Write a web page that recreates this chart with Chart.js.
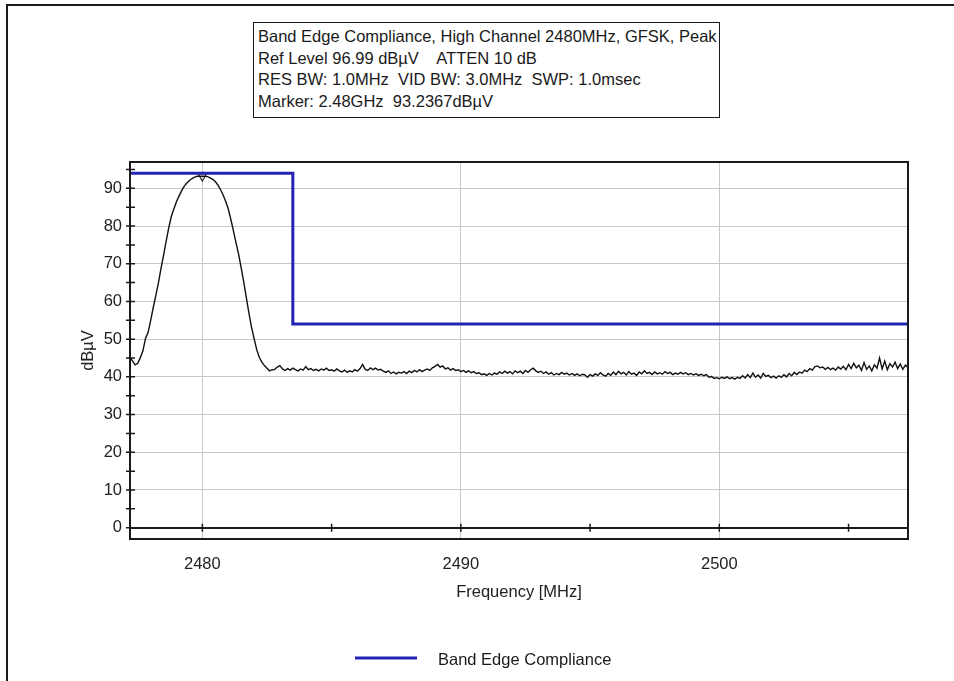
<!DOCTYPE html>
<html>
<head>
<meta charset="utf-8">
<script src="https://cdn.jsdelivr.net/npm/chart.js@4"></script>
<style>
  body { margin: 0; background: #fff; }
  #wrap { position: absolute; left: 0; top: 0; width: 954px; height: 681px; }
  #frame { position: absolute; left: 6px; top: 4px; right: 0; bottom: 0; border-top: 2px solid #1a1a1a; border-left: 2px solid #1a1a1a; }
  #info {
    position: absolute; left: 253px; top: 22px; width: 461px; height: 91px;
    border: 1.5px solid #1a1a1a; padding: 3px 0 0 4px; background: #fff;
    font: 16.5px "Liberation Sans", Arial, sans-serif; line-height: 21.7px; color: #1a1a1a;
    white-space: pre;
  }
</style>
</head>
<body>
<div id="wrap">
  <div id="frame"></div>
  <canvas id="chartBandEdge" width="954" height="681"></canvas>
  <div id="info"></div>
</div>
<script>
// sweep header
const infoLines = [
  'Band Edge Compliance, High Channel 2480MHz, GFSK, Peak',
  'Ref Level 96.99 dBµV    ATTEN 10 dB',
  'RES BW: 1.0MHz  VID BW: 3.0MHz  SWP: 1.0msec',
  'Marker: 2.48GHz  93.2367dBµV'
];

// analyzer trace, one point every 0.1 MHz from 2477.2 MHz
const freqStart = 2477.2;
const freqStep = 0.1;
const traceLevel = [
  45.2, 44.2, 43.2, 43.6, 45.1, 46.9, 50.2, 51.8,
  55.0, 58.4, 61.6, 64.9, 68.8, 72.3, 76.0, 79.6, 82.6, 84.6,
  86.5, 88.0, 89.4, 90.6, 91.4, 92.1, 92.6, 93.0, 93.2, 93.2,
  93.24, 93.2, 93.1, 92.8, 92.4, 91.8, 90.9, 89.7, 88.3, 86.6,
  84.6, 81.8, 78.8, 75.6, 72.6, 69.0, 65.2, 61.0, 57.0, 53.2,
  50.2, 47.3, 45.2, 43.9, 43.0, 42.3, 41.6, 41.9, 42.0, 42.6,
  43.0, 42.1, 41.7, 42.2, 41.8, 42.3, 41.9, 41.6, 42.1, 41.8,
  42.7, 41.9, 42.2, 41.7, 42.0, 41.6, 42.1, 41.8, 42.3, 41.7,
  41.9, 41.5, 42.1, 41.6, 41.3, 41.8, 41.2, 41.6, 41.3, 41.9,
  41.5, 42.2, 43.3, 42.0, 41.7, 42.4, 41.9, 42.3, 41.8, 42.0,
  41.5, 41.2, 41.6, 40.9, 41.3, 40.8, 41.2, 41.0, 41.4, 40.9,
  41.5, 41.1, 41.7, 41.3, 41.9, 41.4, 41.8, 42.1, 41.7, 42.4,
  42.8, 43.3, 42.6, 42.9, 42.1, 42.4, 41.8, 42.2, 41.7, 41.9,
  41.4, 41.7, 41.2, 41.6, 41.1, 41.4, 40.9, 41.1, 40.6, 40.8,
  40.4, 40.9, 40.5, 41.0, 40.7, 41.3, 40.9, 41.5, 41.0, 41.4,
  40.8, 41.6, 41.1, 41.5, 40.9, 41.7, 41.2, 41.9, 42.3, 41.6,
  41.2, 41.5, 40.9, 41.3, 40.7, 41.1, 40.5, 40.9, 40.6, 41.2,
  40.7, 41.0, 40.5, 40.9, 40.4, 40.8, 40.3, 40.7, 40.5, 39.9,
  40.6, 40.2, 40.8, 40.4, 41.1, 40.5, 40.2, 40.9, 40.4, 41.3,
  40.6, 41.5, 40.8, 41.2, 40.5, 41.4, 40.7, 41.0, 40.4, 41.3,
  40.8, 41.6, 40.9, 41.2, 40.6, 41.3, 40.8, 41.1, 40.7, 41.4,
  40.9, 41.2, 40.6, 41.0, 40.7, 41.2, 40.8, 41.1, 40.6, 40.9,
  40.5, 40.8, 40.4, 40.7, 40.3, 40.6, 39.9, 40.1, 39.6, 39.8,
  39.5, 39.9, 39.6, 40.0, 39.5, 39.8, 39.4, 39.9, 39.6, 40.3,
  39.7, 40.6, 39.8, 41.0, 39.9, 40.5, 39.7, 40.9, 40.1, 40.4,
  39.8, 40.2, 39.7, 40.3, 39.9, 40.6, 40.0, 40.9, 40.3, 41.2,
  40.6, 41.3, 41.0, 41.8, 41.4, 42.2, 41.8, 42.7, 42.9, 42.4,
  42.6, 42.0, 42.5, 41.9, 42.3, 41.8, 42.6, 42.1, 42.8, 41.9,
  43.3, 42.2, 43.6, 42.4, 43.1, 41.7, 43.8, 42.0, 42.9, 41.6,
  43.2, 42.3, 45.0, 42.1, 44.2, 41.9, 43.5, 42.6, 43.9, 42.2,
  43.4, 42.0, 43.1, 42.5
];

// limit line: 94 dBuV in band, 54 dBuV above 2483.5 MHz
const limitFreq = [2477.2, 2483.5, 2483.5, 2507.3];
const limitLevel = [94, 94, 54, 54];

const markerFreq = 2480;
const markerLevel = 93.2367;

// tick marks every 5, labels and grid every 10
const yTickValues = [0, 5, 10, 15, 20, 25, 30, 35, 40, 45, 50, 55, 60, 65, 70, 75, 80, 85, 90, 95];
const xTickValues = [2480, 2485, 2490, 2495, 2500, 2505];

const xMin = 2477.2, xMax = 2507.3;
const yMin = -3, yMax = 96.99;

document.getElementById('info').textContent = infoLines.join('\n');

Chart.defaults.font.family = '"Liberation Sans", Arial, sans-serif';
Chart.defaults.font.size = 16.5;
Chart.defaults.color = '#222';

const tracePoints = traceLevel.map((v, i) => ({ x: freqStart + i * freqStep, y: v }));
const limitPoints = limitFreq.map((f, i) => ({ x: f, y: limitLevel[i] }));

// plot box, crossing tick marks and the legend row
const plotFrame = {
  id: 'plotFrame',
  afterDatasetsDraw(chart) {
    const { ctx, chartArea: a, scales: { x, y } } = chart;
    const y0 = y.getPixelForValue(0);
    ctx.save();
    ctx.strokeStyle = '#1a1a1a';
    ctx.lineWidth = 2;
    ctx.strokeRect(a.left, a.top, a.right - a.left, a.bottom - a.top);
    ctx.lineWidth = 1.5;
    ctx.beginPath();
    y.ticks.forEach(t => {
      const p = y.getPixelForValue(t.value);
      ctx.moveTo(a.left - 4, p);
      ctx.lineTo(a.left + 5, p);
    });
    x.ticks.forEach(t => {
      const p = x.getPixelForValue(t.value);
      ctx.moveTo(p, y0 - 4);
      ctx.lineTo(p, y0 + 4);
    });
    ctx.stroke();

    const ds = chart.data.datasets[1];
    ctx.strokeStyle = ds.borderColor;
    ctx.lineWidth = 3;
    ctx.beginPath();
    ctx.moveTo(355, 658);
    ctx.lineTo(417, 658);
    ctx.stroke();
    ctx.fillStyle = '#1a1a1a';
    ctx.font = '16.5px "Liberation Sans", Arial, sans-serif';
    ctx.textBaseline = 'middle';
    ctx.fillText(ds.label, 438, 660);
    ctx.restore();
  }
};

const gridAt10 = c => (c.tick && Math.round(c.tick.value) % 10 === 0 && c.tick.value > 0) ? '#c8c8c8' : 'transparent';
const labelAt10 = v => Math.round(v) % 10 === 0 ? String(v) : '';

new Chart(document.getElementById('chartBandEdge'), {
  type: 'line',
  data: {
    datasets: [
      { label: 'Trace', data: tracePoints, borderColor: '#111', borderWidth: 1.4, pointRadius: 0, tension: 0 },
      { label: 'Band Edge Compliance', data: limitPoints, borderColor: '#2323b3', borderWidth: 3, pointRadius: 0, tension: 0 },
      { label: 'Marker', data: [{ x: markerFreq, y: markerLevel }], showLine: false, pointStyle: 'triangle', rotation: 180,
        pointRadius: 5, borderColor: '#333', borderWidth: 1.2, backgroundColor: 'rgba(255,255,255,0)' }
    ]
  },
  options: {
    responsive: false,
    animation: false,
    layout: { padding: { left: 79, top: 162, right: 46, bottom: 142 } },
    plugins: { legend: { display: false }, tooltip: { enabled: false } },
    scales: {
      y: {
        type: 'linear', min: yMin, max: yMax,
        afterFit(s) { s.width = 51; },
        afterBuildTicks(s) { s.ticks = yTickValues.map(v => ({ value: v })); },
        ticks: { autoSkip: false, padding: 8, callback: labelAt10 },
        grid: { drawTicks: false, color: gridAt10 },
        border: { color: '#1a1a1a', width: 2 },
        title: { display: true, text: 'dBµV', padding: 0 }
      },
      x: {
        type: 'linear', min: xMin, max: xMax, position: { y: 0 },
        afterFit(s) { s.height = 75; },
        afterBuildTicks(s) { s.ticks = xTickValues.map(v => ({ value: v })); },
        ticks: { autoSkip: false, padding: 27, maxRotation: 0, callback: labelAt10 },
        grid: { drawTicks: false, color: gridAt10 },
        border: { color: '#1a1a1a', width: 2 },
        title: { display: true, text: 'Frequency [MHz]', padding: 0 }
      }
    }
  },
  plugins: [plotFrame]
});
</script>
</body>
</html>
